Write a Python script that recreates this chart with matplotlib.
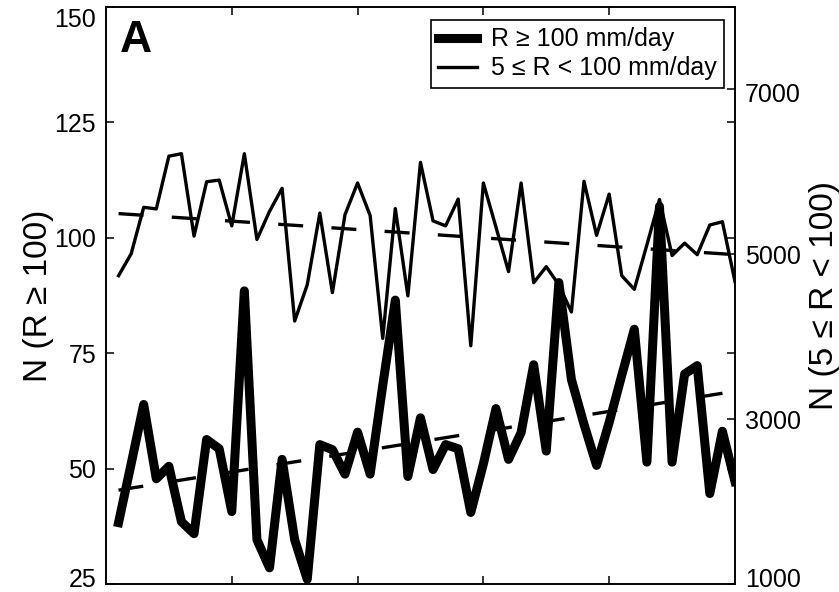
import numpy as np
import matplotlib
matplotlib.use("Agg")
import matplotlib.pyplot as plt
from matplotlib.transforms import ScaledTranslation

plt.rcParams['font.family'] = ['Liberation Sans', 'DejaVu Sans']

years = np.arange(1951, 2001)

# N (R >= 100), left axis
heavy = [38.3, 51.0, 63.9, 47.8, 50.5, 38.5, 35.9, 56.3, 54.3, 40.7,
         88.5, 34.6, 28.5, 52.0, 34.6, 26.0, 55.2, 54.1, 48.8, 57.9,
         48.8, 68.0, 86.5, 48.3, 61.0, 49.8, 55.2, 54.3, 40.5, 51.0,
         63.0, 52.0, 57.8, 72.5, 53.8, 90.3, 69.3, 59.6, 50.7, 60.0,
         70.2, 80.2, 51.4, 106.8, 51.4, 70.5, 72.3, 44.6, 58.1, 47.2]

# N (5 <= R < 100), right axis
moderate = [4740, 5005, 5570, 5550, 6190, 6220, 5220, 5880, 5900, 5345,
            6220, 5180, 5520, 5800, 4190, 4630, 5500, 4535, 5480, 5865,
            5470, 3980, 5555, 4495, 6115, 5405, 5345, 5670, 3890, 5865,
            5330, 4790, 5865, 4655, 4850, 4630, 4300, 5885, 5230, 5730,
            4740, 4575, 5115, 5665, 4985, 5135, 4995, 5355, 5395, 4670]

labels = ['R \u2265 100 mm/day', '5 \u2264 R < 100 mm/day']

fig = plt.figure(figsize=(8.39, 5.92), dpi=100)
ax1 = fig.add_axes([0.1263, 0.0135, 0.7497, 0.9747])
ax2 = ax1.twinx()

trend_ls = (0, (7.5, 8.5))

h1, = ax1.plot(years, heavy, color='black', lw=6.5, solid_joinstyle='round')
p = np.polyfit(years, heavy, 1)
ax1.plot(years, np.polyval(p, years), color='black', lw=2.4, ls=trend_ls)

h2, = ax2.plot(years, moderate, color='black', lw=2.4)
q = np.polyfit(years, moderate, 1)
ax2.plot(years, np.polyval(q, years), color='black', lw=2.4, ls=trend_ls)

ax1.set_xlim(1950, 2000)
ax1.set_ylim(25, 150)
ax2.set_ylim(1000, 8000)
ax1.set_xticks([1960, 1970, 1980, 1990])
ax1.set_yticks([25, 50, 75, 100, 125, 150])
ax2.set_yticks([1000, 3000, 5000, 7000])

ax1.tick_params(axis='x', direction='in', top=True, bottom=True,
                labelbottom=False, length=6, width=1.1)
ax1.tick_params(axis='y', direction='in', left=True, right=True,
                labelsize=18, length=6, width=1.1, pad=7)
ax2.tick_params(axis='y', direction='in', labelsize=18, length=6,
                width=1.1, pad=7)

for ax in (ax1, ax2):
    for s in ax.spines.values():
        s.set_linewidth(1.2)


def nudge(label, dy):
    # move an end tick label so it stays inside the figure
    label.set_transform(label.get_transform() +
                        ScaledTranslation(0, dy / 100, fig.dpi_scale_trans))


lt = ax1.yaxis.get_major_ticks()
nudge(lt[0].label1, 7)
nudge(lt[-1].label1, -11)
rt = ax2.yaxis.get_major_ticks()
nudge(rt[0].label2, 7)
nudge(rt[-1].label2, -3)

ax1.set_ylabel('N (R \u2265 100)', fontsize=24, labelpad=0)
ax2.set_ylabel('N (5 \u2264 R < 100)', fontsize=24, labelpad=6)

ax1.text(0.022, 0.922, 'A', transform=ax1.transAxes, fontsize=32,
         fontweight='bold', va='baseline', ha='left')

leg = ax2.legend([h1, h2], labels, loc='upper right',
                 bbox_to_anchor=(0.9825, 0.9775), borderaxespad=0,
                 fontsize=18, handlelength=1.55, handletextpad=0.55,
                 labelspacing=0.2, borderpad=0.3, fancybox=False,
                 framealpha=1, edgecolor='black')
leg.get_frame().set_linewidth(1.2)

fig.savefig('out.png', dpi=100)
